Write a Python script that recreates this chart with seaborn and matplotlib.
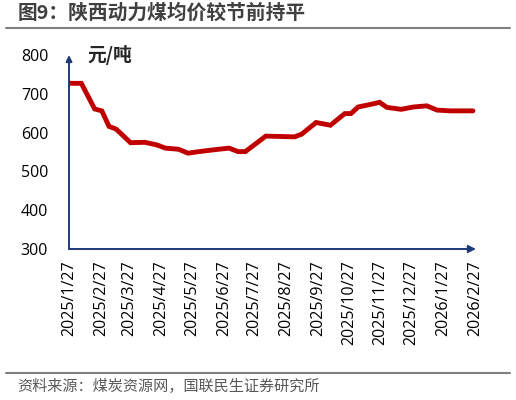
import pandas as pd
import matplotlib
matplotlib.use("Agg")
import matplotlib.pyplot as plt
import seaborn as sns
from matplotlib.lines import Line2D

# weekly-ish price points (元/吨)
dates = [
    "2025-01-27", "2025-02-08", "2025-02-21", "2025-02-28", "2025-03-07",
    "2025-03-14", "2025-03-28", "2025-04-11", "2025-04-23", "2025-05-01",
    "2025-05-14", "2025-05-23", "2025-06-03", "2025-06-15", "2025-07-02",
    "2025-07-11", "2025-07-18", "2025-08-07", "2025-09-04", "2025-09-11",
    "2025-09-25", "2025-10-09", "2025-10-23", "2025-10-29", "2025-11-05",
    "2025-11-16", "2025-11-26", "2025-12-03", "2025-12-17", "2025-12-29",
    "2026-01-11", "2026-01-21", "2026-02-03", "2026-02-25",
]
prices = [
    727, 727, 661, 656, 616,
    609, 574, 575, 568, 560,
    557, 547, 551, 555, 560,
    551, 551, 591, 589, 596,
    626, 619, 649, 649, 666,
    672, 678, 665, 660, 666,
    669, 658, 656, 656,
]
tick_labels = [
    "2025/1/27", "2025/2/27", "2025/3/27", "2025/4/27", "2025/5/27",
    "2025/6/27", "2025/7/27", "2025/8/27", "2025/9/27", "2025/10/27",
    "2025/11/27", "2025/12/27", "2026/1/27", "2026/2/27",
]
y_ticks = [300, 400, 500, 600, 700, 800]

title = "图9：陕西动力煤均价较节前持平"
unit = "元/吨"
source = "资料来源：煤炭资源网，国联民生证券研究所"

sns.set_style("white")
plt.rcParams["font.family"] = ["Noto Sans CJK SC", "DejaVu Sans"]
NUM_FONT = ["Open Sans", "Noto Sans CJK SC", "DejaVu Sans"]

df = pd.DataFrame({"date": pd.to_datetime(dates), "price": prices})
tick_dates = pd.to_datetime(tick_labels, format="%Y/%m/%d")

AXIS_COLOR = "#1f3a78"
LINE_COLOR = "#c00000"

fig = plt.figure(figsize=(5.16, 4.0), dpi=100)
ax = fig.add_axes([69 / 516, 1 - 249 / 400, (476 - 69) / 516, (249 - 55) / 400])

sns.lineplot(data=df, x="date", y="price", ax=ax, color=LINE_COLOR,
             linewidth=3.5, solid_joinstyle="miter")

ax.set_xlim(pd.Timestamp("2025-01-27"), pd.Timestamp("2026-02-28"))
ax.set_ylim(300, 800)
ax.set_xticks(tick_dates)
ax.set_xticklabels(tick_labels, rotation=90, fontsize=11.5, color="#000000",
                   family=NUM_FONT)
ax.set_yticks(y_ticks)
ax.set_yticklabels([str(v) for v in y_ticks], fontsize=11.5, color="#000000",
                   family=NUM_FONT)
ax.tick_params(axis="x", length=0, pad=8)
ax.tick_params(axis="y", length=0, pad=15)
ax.set_xlabel("")
ax.set_ylabel("")
for s in ax.spines.values():
    s.set_visible(False)

# axis lines with arrow heads
ax.annotate("", xy=(1, 0), xytext=(0, 0), xycoords="axes fraction",
            arrowprops=dict(arrowstyle="-|>", color=AXIS_COLOR, lw=1.4,
                            mutation_scale=11, shrinkA=0, shrinkB=0))
ax.annotate("", xy=(0, 1), xytext=(0, 0), xycoords="axes fraction",
            arrowprops=dict(arrowstyle="-|>", color=AXIS_COLOR, lw=1.4,
                            mutation_scale=9, shrinkA=0, shrinkB=0))

ax.text(87 / 516, 1 - 55 / 400, unit, transform=fig.transFigure,
        fontsize=13.5, fontweight="bold", va="center", ha="left")

fig.text(18 / 516, 1 - 13 / 400, title, fontsize=14.2, fontweight="bold",
         color="#404040", va="center", ha="left")
fig.add_artist(Line2D([6 / 516, 510 / 516], [1 - 27.5 / 400] * 2,
                      color="#808080", lw=1.5))
fig.add_artist(Line2D([6 / 516, 510 / 516], [1 - 372.5 / 400] * 2,
                      color="#808080", lw=1.5))
fig.text(17 / 516, 1 - 386.5 / 400, source, fontsize=10.9,
         color="#595959", va="center", ha="left")

fig.savefig("out.png", dpi=100)
